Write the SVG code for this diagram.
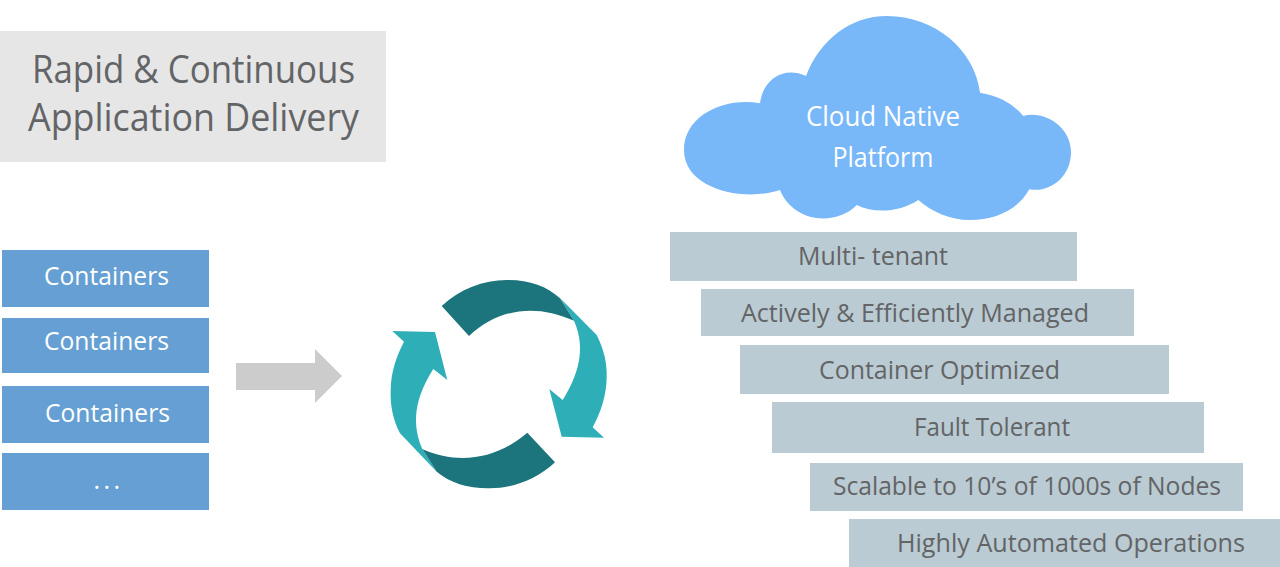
<svg xmlns="http://www.w3.org/2000/svg" width="1280" height="567" viewBox="0 0 1280 567">
<style>
text{font-family:"Open Sans","Noto Sans",sans-serif;text-anchor:middle}
.b{fill:#659fd3}.s{fill:#bacbd3}
.w{fill:#fff;font-size:25px}
.c{font-size:27px}
.g{fill:#636466;font-size:25px}
.h{fill:#636466;font-size:38px}
.d{fill:#1c747c}.t{fill:#2eafb8}
</style>
<rect width="1280" height="567" fill="#fff"/>
<g id="title"><rect y="31" width="386" height="131" fill="#e6e6e6"/>
<text class="h" x="193.500" y="82.500" textLength="323" lengthAdjust="spacingAndGlyphs">Rapid &amp; Continuous</text>
<text class="h" x="193.500" y="130.500" textLength="331" lengthAdjust="spacingAndGlyphs">Application Delivery</text></g>
<g id="c1"><rect class="b" x="2" y="250" width="207" height="57"/><text class="w" x="106.500" y="285" textLength="125" lengthAdjust="spacingAndGlyphs">Containers</text></g>
<g id="c2"><rect class="b" x="2" y="318" width="207" height="55"/><text class="w" x="106.500" y="349.500" textLength="125" lengthAdjust="spacingAndGlyphs">Containers</text></g>
<g id="c3"><rect class="b" x="2" y="386" width="207" height="57"/><text class="w" x="107.500" y="421.500" textLength="125" lengthAdjust="spacingAndGlyphs">Containers</text></g>
<g id="c4"><rect class="b" x="2" y="453" width="207" height="57"/><text class="w" x="108.500" y="489" letter-spacing="3.500">...</text></g>
<g id="connectors"><polygon points="236,363 315,363 315,349 342,376 315,403 315,390 236,390" fill="#cccccc"/></g>
<g id="cycle">
<path class="t" d="M560 298L596.700 335C604 350 607 362 606.700 377C606.500 395 601 412 592.700 427.300L604 437.700L561.700 436.700L549.300 389L562.700 400C577 377 587 350 574 320.700Z"/>
<path class="t" d="M436.700 471.700L400 433.300C393 420 390 405 390.700 390C391 372 396 357 404 341.700L392.300 331L435 332L447.300 380L433.300 369C419 392 409 418 422.300 449Z"/>
<path class="d" d="M441.700 306C460 289 483 280 506.700 280C528 279.500 547 286 560 298.300L574 320.700C535 303 498 309 469 336Z"/>
<path class="d" d="M555 462.300C536 480 513 488 490 488.300C469 488.700 450 483 436.700 471.700L422.300 449C460 466 498 458 527.300 432.700Z"/>
</g>
<g id="cloud"><path fill="#78b7f8" d="M806 76C820 40 850 16 887 16C935 16 975 50 980 92.700C1000 96 1013 104 1023.300 116C1046 110 1071 128 1071 152C1071 177 1050 193 1029.300 189.300C1018 210 995 220 970 220C950 220 932 212 918.300 200C900 212 875 214 856.700 205C835 227 793 222 780 190C745 202 684 190 684 150C684 115 725 97 760 103.300C763 78 785 66 806 76Z"/>
<text class="w c" x="883" y="126" textLength="154" lengthAdjust="spacingAndGlyphs">Cloud Native</text><text class="w c" x="883" y="166.500" textLength="101" lengthAdjust="spacingAndGlyphs">Platform</text></g>
<g id="s1"><rect class="s" x="670" y="232" width="407" height="49"/><text class="g" x="873" y="265" textLength="150" lengthAdjust="spacingAndGlyphs">Multi- tenant</text></g>
<g id="s2"><rect class="s" x="701" y="289" width="433" height="47"/><text class="g" x="915" y="322" textLength="348" lengthAdjust="spacingAndGlyphs">Actively &amp; Efficiently Managed</text></g>
<g id="s3"><rect class="s" x="740" y="345" width="429" height="49"/><text class="g" x="939.500" y="379" textLength="241" lengthAdjust="spacingAndGlyphs">Container Optimized</text></g>
<g id="s4"><rect class="s" x="772" y="402" width="432" height="51"/><text class="g" x="992" y="436" textLength="156" lengthAdjust="spacingAndGlyphs">Fault Tolerant</text></g>
<g id="s5"><rect class="s" x="810" y="463" width="433" height="48"/><text class="g" x="1027" y="495" textLength="388" lengthAdjust="spacingAndGlyphs">Scalable to 10’s of 1000s of Nodes</text></g>
<g id="s6"><rect class="s" x="849" y="519" width="431" height="48"/><text class="g" x="1071" y="552" textLength="348" lengthAdjust="spacingAndGlyphs">Highly Automated Operations</text></g>
</svg>
